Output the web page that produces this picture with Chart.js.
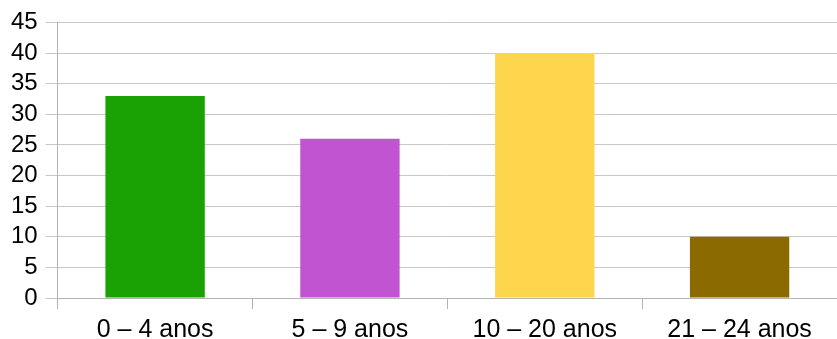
<!DOCTYPE html>
<html>
<head>
<meta charset="utf-8">
<script src="https://cdn.jsdelivr.net/npm/chart.js@4/dist/chart.umd.min.js"></script>
<style>
  html, body { margin: 0; padding: 0; background: #fff; }
  #wrap { width: 837px; height: 339px; }
</style>
</head>
<body>
<div id="wrap"><canvas id="chart" width="837" height="339"></canvas></div>
<script>
// Faixas etárias
const categories = ['0 – 4 anos', '5 – 9 anos', '10 – 20 anos', '21 – 24 anos'];
const values = [33, 26, 40, 10];
const barColors = ['#1aa103', '#c155d1', '#fed64e', '#8b6a00'];
const yTicks = [0, 5, 10, 15, 20, 25, 30, 35, 40, 45];

const ctx = document.getElementById('chart').getContext('2d');
new Chart(ctx, {
    type: 'bar',
    data: {
        labels: categories,
        datasets: [{
            data: values,
            backgroundColor: barColors,
            borderWidth: 0,
            categoryPercentage: 1,
            barPercentage: 0.51
        }]
    },
    options: {
        responsive: false,
        animation: false,
        // labels sit right on the bottom edge in the original, so let the axis spill a bit
        layout: { padding: { top: 16, left: 3, right: 0, bottom: -12 } },
        plugins: {
            legend: { display: false },
            tooltip: { enabled: false }
        },
        scales: {
            x: {
                grid: {
                    drawOnChartArea: false,
                    drawTicks: true,
                    tickLength: 11,
                    color: '#b3b3b3'
                },
                border: { color: '#b3b3b3' },
                ticks: {
                    color: '#000',
                    padding: 6,
                    font: { family: 'Liberation Sans', size: 25 }
                }
            },
            y: {
                min: 0,
                max: 45,
                afterBuildTicks: axis => {
                    axis.ticks = yTicks.map(v => ({ value: v }));
                },
                grid: {
                    color: '#c8c8c8',
                    tickLength: 12
                },
                border: { color: '#b3b3b3' },
                ticks: {
                    autoSkip: false,
                    color: '#000',
                    padding: 8,
                    font: { family: 'Liberation Sans', size: 24 }
                }
            }
        }
    }
});
</script>
</body>
</html>
